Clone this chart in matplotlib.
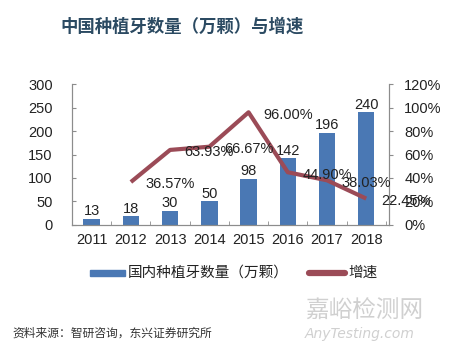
import matplotlib
matplotlib.use("Agg")
import matplotlib.pyplot as plt
import numpy as np

plt.rcParams['font.family'] = ['Liberation Sans', 'Noto Sans CJK SC', 'DejaVu Sans']

years = ['2011', '2012', '2013', '2014', '2015', '2016', '2017', '2018']
implants = [13, 18, 30, 50, 98, 142, 196, 240]
growth = [np.nan, 36.57, 63.93, 66.67, 96.00, 44.90, 38.03, 22.45]
growth_labels = ['', '36.57%', '63.93%', '66.67%', '96.00%', '44.90%', '38.03%', '22.45%']
left_ticks = [0, 50, 100, 150, 200, 250, 300]
right_ticks = [0, 20, 40, 60, 80, 100, 120]

bar_color = '#4A78B4'
line_color = '#9B4B57'
axis_color = '#8C8C8C'
text_color = '#222222'

fig = plt.figure(figsize=(4.56, 3.52), dpi=100)
ax = fig.add_axes([0.158, 0.361, 0.695, 0.400])
ax2 = ax.twinx()

x = np.arange(len(years))
ax.bar(x, implants, width=0.42, color=bar_color, zorder=2)
for xi, v in zip(x, implants):
    ax.text(xi, v + 16, str(v), ha='center', va='center', fontsize=10.5, color=text_color)

ax.set_xlim(-0.48, 7.58)
ax.set_ylim(0, 300)
ax.set_yticks(left_ticks)
ax.set_yticklabels([str(t) for t in left_ticks], fontsize=10.5, color=text_color)
ax.set_xticks(x)
ax.set_xticklabels(years, fontsize=10.5, color=text_color)
ax.tick_params(axis='x', which='major', length=0, pad=6)
ax.set_xticks(np.arange(-0.5, 7.6, 1.0), minor=True)
ax.tick_params(axis='x', which='minor', direction='in', length=3, color=axis_color)
ax.tick_params(axis='y', direction='in', length=3, color=axis_color, pad=14)

ax2.plot(x, growth, color=line_color, lw=3.0, solid_capstyle='butt', zorder=3)
ax2.set_ylim(0, 120)
ax2.set_yticks(right_ticks)
ax2.set_yticklabels([f'{t}%' for t in right_ticks], fontsize=10.5, color=text_color)
ax2.tick_params(axis='y', direction='out', length=3, color=axis_color, pad=8)
for i in range(1, len(years)):
    ax2.text(x[i] + 1, growth[i] - 2, growth_labels[i], ha='center', va='center',
             fontsize=10.5, color=text_color, zorder=5, clip_on=False)

for a in (ax, ax2):
    a.spines['top'].set_visible(False)
    for s in ('left', 'right', 'bottom'):
        a.spines[s].set_color(axis_color)
        a.spines[s].set_linewidth(0.8)
ax.set_zorder(ax2.get_zorder() - 1)
ax.patch.set_visible(False)

fig.text(0.132, 0.923, '中国种植牙数量（万颗）与增速', fontsize=12.5, fontweight='bold',
         color='#2B4A62', family=['Noto Sans CJK SC'], va='center', ha='left')

# legend
from matplotlib.patches import Rectangle
from matplotlib.lines import Line2D
fig.patches.append(Rectangle((90 / 456, 1 - 276 / 352), 35 / 456, 6 / 352,
                             transform=fig.transFigure, color=bar_color))
fig.text(128 / 456, 1 - 273 / 352, '国内种植牙数量（万颗）', fontsize=10.5, color=text_color,
         family=['Noto Sans CJK SC'], va='center', ha='left')
fig.lines.append(Line2D([309 / 456, 345 / 456], [1 - 273 / 352, 1 - 273 / 352],
                        transform=fig.transFigure, color=line_color, lw=4.5,
                        solid_capstyle='round'))
fig.text(348 / 456, 1 - 273 / 352, '增速', fontsize=10.5, color=text_color,
         family=['Noto Sans CJK SC'], va='center', ha='left')

fig.text(12 / 456, 1 - 333 / 352, '资料来源：智研咨询，东兴证券研究所', fontsize=8.5,
         color='#333333', family=['Noto Sans CJK SC'], va='center', ha='left')

# watermark
fig.text(305 / 456, 1 - 311 / 352, '嘉峪检测网', fontsize=17, color='#D0D0D0',
         family=['Noto Sans CJK SC'], va='center', ha='left')
fig.text(305 / 456, 1 - 334 / 352, 'AnyTesting.com', fontsize=10, color='#D0D0D0',
         style='italic', family=['DejaVu Sans'], va='center', ha='left')

fig.savefig('out.png', dpi=100, facecolor='white')
